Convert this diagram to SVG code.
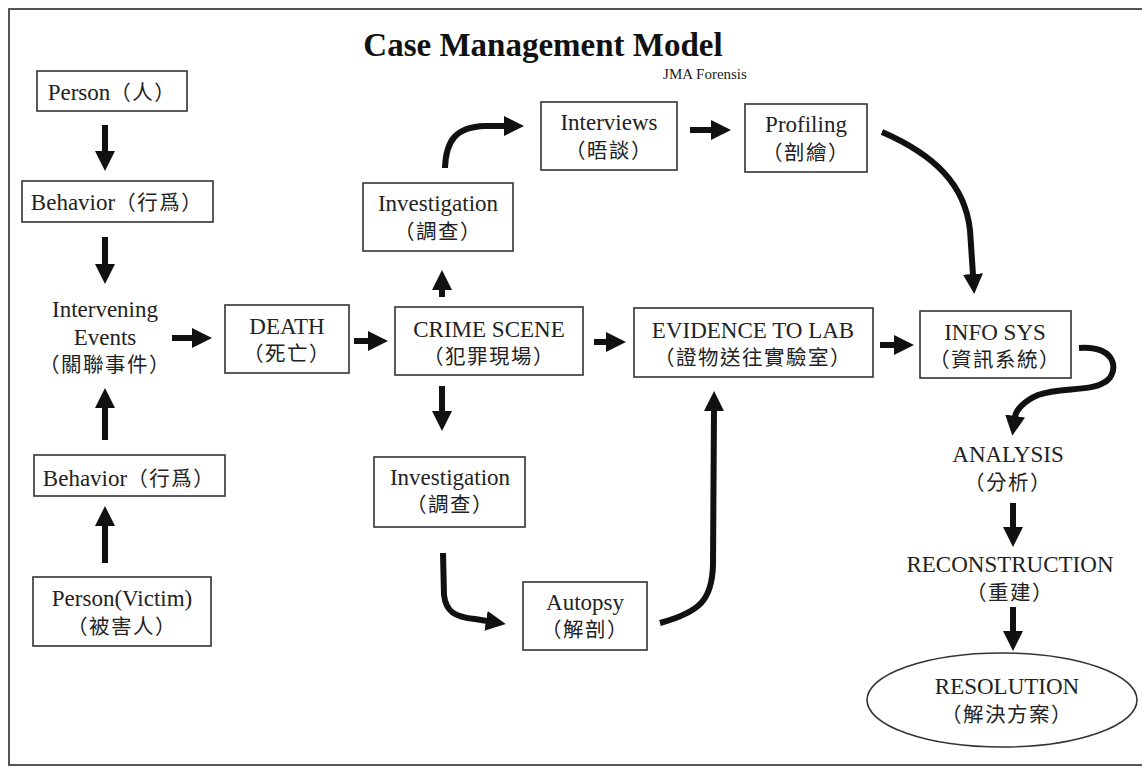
<svg xmlns="http://www.w3.org/2000/svg" width="1142" height="769" viewBox="0 0 1142 769">
<style>
.box{fill:#fff;stroke:#333;stroke-width:1.6}
.t{font-family:"Liberation Serif","Noto Sans CJK TC",serif;font-size:23px;fill:#222;text-anchor:middle}
.c{font-family:"Noto Sans CJK TC","Noto Sans CJK SC",sans-serif;font-size:20.5px;fill:#222;letter-spacing:1.5px}
.ar{fill:none;stroke:#111;stroke-width:6}
</style>
<defs>
<marker id="ah" viewBox="0 0 20 20" refX="1" refY="10" markerWidth="20" markerHeight="20" markerUnits="userSpaceOnUse" orient="auto">
<path d="M0,0 L20,10 L0,20 z" fill="#111"/>
</marker>
</defs>
<rect width="1142" height="769" fill="#fff"/>
<rect x="9" y="9" width="1140" height="756" fill="none" stroke="#444" stroke-width="1.8"/>
<text x="543" y="56" font-family="Liberation Serif,serif" font-weight="bold" font-size="33" fill="#111" text-anchor="middle">Case Management Model</text>
<text x="705" y="79" font-family="Liberation Serif,serif" font-size="15" fill="#222" text-anchor="middle">JMA Forensis</text>

<g id="person">
<rect class="box" x="37" y="71" width="150" height="40"/>
<text class="t" x="112" y="100">Person<tspan class="c">（人）</tspan></text>
</g>
<g id="behavior1">
<rect class="box" x="22" y="181" width="191" height="41"/>
<text class="t" x="117" y="210" font-size="22">Behavior<tspan class="c">（行爲）</tspan></text>
</g>
<g id="intervening">
<text class="t" x="105" y="317">Intervening</text>
<text class="t" x="105" y="345">Events</text>
<text class="t c" x="105" y="372">（關聯事件）</text>
</g>
<g id="behavior2">
<rect class="box" x="34" y="455" width="191" height="41"/>
<text class="t" x="129" y="486" font-size="22">Behavior<tspan class="c">（行爲）</tspan></text>
</g>
<g id="victim">
<rect class="box" x="33" y="577" width="178" height="69"/>
<text class="t" x="122" y="606">Person(Victim)</text>
<text class="t c" x="122" y="634">（被害人）</text>
</g>
<g id="death">
<rect class="box" x="225" y="305" width="124" height="68"/>
<text class="t" x="287" y="334">DEATH</text>
<text class="t c" x="287" y="361">（死亡）</text>
</g>
<g id="crime">
<rect class="box" x="395" y="307" width="188" height="68"/>
<text class="t" x="489" y="337">CRIME SCENE</text>
<text class="t c" x="489" y="364">（犯罪現場）</text>
</g>
<g id="evidence">
<rect class="box" x="634" y="308" width="239" height="69"/>
<text class="t" x="753" y="338">EVIDENCE TO LAB</text>
<text class="t c" x="753" y="365">（證物送往實驗室）</text>
</g>
<g id="infosys">
<rect class="box" x="920" y="311" width="151" height="67"/>
<text class="t" x="995" y="340">INFO SYS</text>
<text class="t c" x="995" y="367">（資訊系統）</text>
</g>
<g id="invest1">
<rect class="box" x="363" y="183" width="150" height="68"/>
<text class="t" x="438" y="211">Investigation</text>
<text class="t c" x="438" y="239">（調查）</text>
</g>
<g id="interviews">
<rect class="box" x="541" y="102" width="136" height="68"/>
<text class="t" x="609" y="130">Interviews</text>
<text class="t c" x="609" y="158">（晤談）</text>
</g>
<g id="profiling">
<rect class="box" x="745" y="104" width="122" height="68"/>
<text class="t" x="806" y="132">Profiling</text>
<text class="t c" x="806" y="160">（剖繪）</text>
</g>
<g id="invest2">
<rect class="box" x="374" y="457" width="151" height="70"/>
<text class="t" x="450" y="485">Investigation</text>
<text class="t c" x="450" y="512">（調查）</text>
</g>
<g id="autopsy">
<rect class="box" x="523" y="582" width="124" height="68"/>
<text class="t" x="585" y="610">Autopsy</text>
<text class="t c" x="585" y="637">（解剖）</text>
</g>
<g id="analysis">
<text class="t" x="1008" y="462">ANALYSIS</text>
<text class="t c" x="1008" y="490">（分析）</text>
</g>
<g id="reconstruction">
<text class="t" x="1010" y="572">RECONSTRUCTION</text>
<text class="t c" x="1010" y="600">（重建）</text>
</g>
<g id="resolution">
<ellipse cx="1002" cy="700" rx="135" ry="47" fill="#fff" stroke="#333" stroke-width="1.6"/>
<text class="t" x="1007" y="694">RESOLUTION</text>
<text class="t c" x="1007" y="722">（解決方案）</text>
</g>

<g id="connectors">
<path class="ar" marker-end="url(#ah)" d="M105,125 V152"/>
<path class="ar" marker-end="url(#ah)" d="M105,237 V265"/>
<path class="ar" marker-end="url(#ah)" d="M105,440 V407"/>
<path class="ar" marker-end="url(#ah)" d="M105,563 V525"/>
<path class="ar" marker-end="url(#ah)" d="M172,338 H193"/>
<path class="ar" marker-end="url(#ah)" d="M354,341 H369"/>
<path class="ar" marker-end="url(#ah)" d="M442,297 V289"/>
<path class="ar" marker-end="url(#ah)" d="M442,386 V412"/>
<path class="ar" marker-end="url(#ah)" d="M594,342 H607"/>
<path class="ar" marker-end="url(#ah)" d="M880,345 H895"/>
<path class="ar" marker-end="url(#ah)" d="M690,130 H712"/>
<path class="ar" marker-end="url(#ah)" d="M445,168 C446,140 456,127 485,126 L505,126"/>
<path class="ar" marker-end="url(#ah)" d="M882,132 C935,155 965,185 970,230 L973,275"/>
<path class="ar" marker-end="url(#ah)" d="M1079,348 C1120,345 1118,375 1105,382 C1090,392 1060,387 1038,395 C1024,401 1016,410 1015,417"/>
<path class="ar" marker-end="url(#ah)" d="M1013,503 V528"/>
<path class="ar" marker-end="url(#ah)" d="M1013,607 V632"/>
<path class="ar" marker-end="url(#ah)" d="M443,553 L444,595 C446,612 455,617 475,619 L487,621"/>
<path class="ar" marker-end="url(#ah)" d="M660,623 C700,612 712,600 713,565 L714,410"/>
</g>
</svg>
